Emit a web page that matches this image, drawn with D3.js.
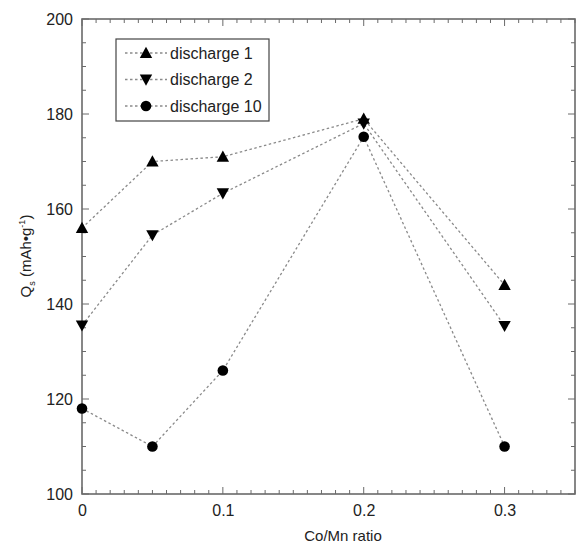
<!DOCTYPE html>
<html><head><meta charset="utf-8">
<script src="https://cdn.jsdelivr.net/npm/d3@7"></script>
<style>body{margin:0;background:#fff}text{font-family:"Liberation Sans",Arial,sans-serif;fill:#222}</style>
</head><body><svg id="c" width="582" height="543"></svg>
<script>
const xValues = [0, 0.05, 0.1, 0.2, 0.3];
const discharge1 = [156, 170, 171, 179, 144];
const discharge2 = [135.5, 154.5, 163.3, 178, 135.4];
const discharge10 = [118, 110, 126, 175.2, 110];
const seriesNames = ["discharge 1", "discharge 2", "discharge 10"];
const seriesSymbols = ["up", "down", "circle"];
const xTicks = [0, 0.1, 0.2, 0.3];
const yTicks = [100, 120, 140, 160, 180, 200];

const svg = d3.select("#c");
const L = 82, R = 575, T = 19, B = 494;
const x = d3.scaleLinear().domain([0, 0.35]).range([L, R]);
const y = d3.scaleLinear().domain([100, 200]).range([B, T]);
const axisCol = "#6a6a6a";

// minor ticks
const xMinor = d3.range(0, 0.3501, 0.01).map(v => +v.toFixed(2));
const yMinor = d3.range(100, 200.1, 5);
const g = svg.append("g");
xMinor.forEach(v => {
  const major = xTicks.some(t => Math.abs(t - v) < 1e-9);
  const len = major ? 7 : 4;
  g.append("line").attr("x1", x(v)).attr("x2", x(v)).attr("y1", B).attr("y2", B - len).attr("stroke", axisCol).attr("stroke-width", 1);
  g.append("line").attr("x1", x(v)).attr("x2", x(v)).attr("y1", T).attr("y2", T + len).attr("stroke", axisCol).attr("stroke-width", 1);
});
yMinor.forEach(v => {
  const major = v % 20 === 0;
  const len = major ? 7 : 4;
  g.append("line").attr("y1", y(v)).attr("y2", y(v)).attr("x1", L).attr("x2", L + len).attr("stroke", axisCol).attr("stroke-width", 1);
  g.append("line").attr("y1", y(v)).attr("y2", y(v)).attr("x1", R).attr("x2", R - len).attr("stroke", axisCol).attr("stroke-width", 1);
});
svg.append("rect").attr("x", L).attr("y", T).attr("width", R - L).attr("height", B - T)
  .attr("fill", "none").attr("stroke", axisCol).attr("stroke-width", 1.6);

// axes labels via d3 axis
const xAxis = svg.append("g").attr("transform", `translate(0,${B})`)
  .call(d3.axisBottom(x).tickValues(xTicks).tickSize(0).tickPadding(11).tickFormat(d => d === 0 ? "0" : d3.format(".1f")(d)));
xAxis.select(".domain").remove();
xAxis.selectAll("text").attr("font-size", 16).style("font-family", '"Liberation Sans",Arial,sans-serif').attr("fill", "#222");
const yAxis = svg.append("g").attr("transform", `translate(${L},0)`)
  .call(d3.axisLeft(y).tickValues(yTicks).tickSize(0).tickPadding(9));
yAxis.select(".domain").remove();
yAxis.selectAll("text").attr("font-size", 16).style("font-family", '"Liberation Sans",Arial,sans-serif').attr("fill", "#222");

svg.append("text").attr("x", 343).attr("y", 541).attr("text-anchor", "middle").attr("font-size", 15).text("Co/Mn ratio");
const yl = svg.append("text").attr("transform", "translate(31,256) rotate(-90)").attr("text-anchor", "middle").attr("font-size", 15);
yl.append("tspan").text("Q");
yl.append("tspan").attr("font-size", 9).attr("dy", 4).text("s");
yl.append("tspan").attr("dy", -4).text(" (mAh\u2022g");
yl.append("tspan").attr("font-size", 9).attr("dy", -6).text("-1");
yl.append("tspan").attr("dy", 6).text(")");

const series = [discharge1, discharge2, discharge10];
const line = d3.line().x((d, i) => x(xValues[i])).y(d => y(d));
function symbol(sel, type) {
  if (type === "circle") return sel.append("circle").attr("r", 5.3).attr("fill", "#000");
  const s = 6.2;
  const pts = type === "up" ? [[0, -s], [s, s * 0.8], [-s, s * 0.8]] : [[0, s], [s, -s * 0.8], [-s, -s * 0.8]];
  return sel.append("path").attr("d", "M" + pts.map(p => p.join(",")).join("L") + "Z").attr("fill", "#000");
}
series.forEach((vals, k) => {
  svg.append("path").attr("d", line(vals)).attr("fill", "none").attr("stroke", "#8a8a8a")
    .attr("stroke-width", 1.3).attr("stroke-dasharray", "2.5,2.5");
});
series.forEach((vals, k) => {
  vals.forEach((v, i) => {
    const gg = svg.append("g").attr("transform", `translate(${x(xValues[i])},${y(v)})`);
    symbol(gg, seriesSymbols[k]);
  });
});

// legend
const lg = svg.append("g");
lg.append("rect").attr("x", 116).attr("y", 39).attr("width", 153).attr("height", 82)
  .attr("fill", "#fff").attr("stroke", "#444").attr("stroke-width", 1.2);
seriesNames.forEach((n, k) => {
  const yy = 53 + k * 26.5;
  lg.append("line").attr("x1", 125).attr("x2", 167).attr("y1", yy).attr("y2", yy)
    .attr("stroke", "#8a8a8a").attr("stroke-width", 1.3).attr("stroke-dasharray", "2.5,2.5");
  const gg = lg.append("g").attr("transform", `translate(146,${yy})`);
  symbol(gg, seriesSymbols[k]);
  lg.append("text").attr("x", 170).attr("y", yy + 5.5).attr("font-size", 16).text(n);
});
</script></body></html>
